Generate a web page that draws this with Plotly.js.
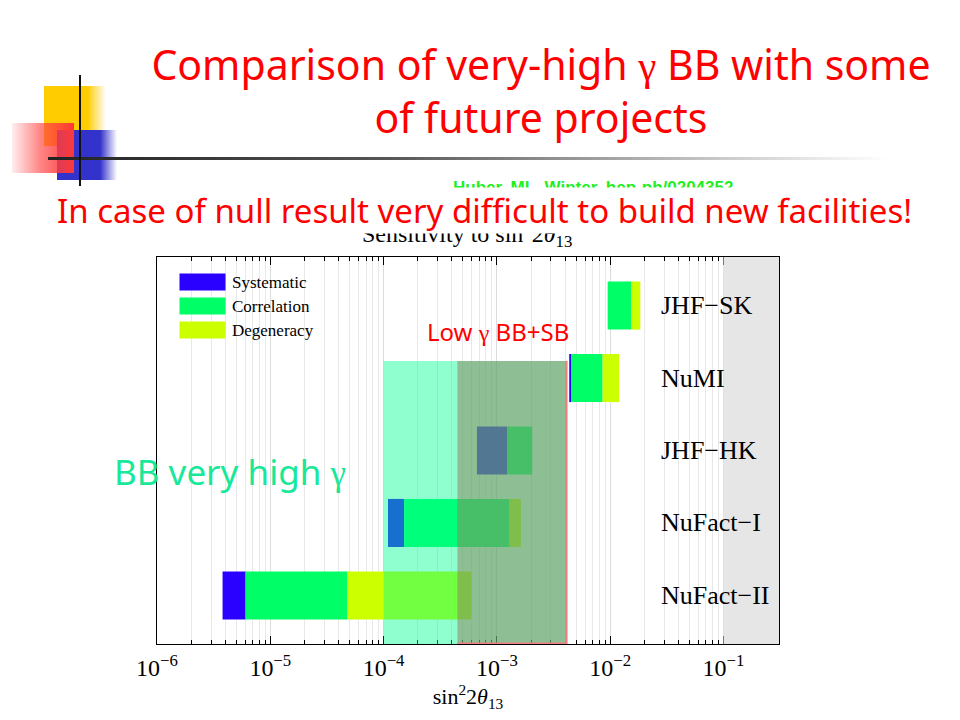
<!DOCTYPE html>
<html>
<head>
<meta charset="utf-8">
<script src="https://cdn.plot.ly/plotly-3.0.1.min.js"></script>
<style>
  html, body { margin: 0; padding: 0; background: #ffffff; }
  #wrap { position: relative; width: 960px; height: 720px; overflow: hidden; background: #ffffff; }
  .deco { position: absolute; }
  #chart { position: absolute; left: 0; top: 0; width: 960px; height: 720px; }
</style>
</head>
<body>
<div id="wrap">
  <div class="deco" style="left:44px;top:86px;width:62px;height:60px;background:linear-gradient(to right,#ffcc00 0%,#ffcc00 70%,rgba(255,204,0,0) 100%);"></div>
  <div class="deco" style="left:57px;top:130px;width:60px;height:50px;background:linear-gradient(to right,#3333cc 0%,#3333cc 72%,rgba(51,51,204,0) 100%);"></div>
  <div class="deco" style="left:12px;top:123px;width:62px;height:50px;background:linear-gradient(to right,rgba(255,90,90,0.1) 0%,rgba(255,70,70,0.65) 45%,#ff3838 100%);"></div>
  <div class="deco" style="left:48px;top:157px;width:840px;height:3px;background:linear-gradient(to right,#222 0%,#555 40%,rgba(120,120,120,0.4) 80%,rgba(200,200,200,0) 100%);"></div>
  <div class="deco" style="left:79px;top:75px;width:2px;height:111px;background:#111;"></div>
  <div id="chart"></div>
</div>
<script>
// ---- data ----
const categories = ['JHF\u2212SK', 'NuMI', 'JHF\u2212HK', 'NuFact\u2212I', 'NuFact\u2212II'];
const seriesNames = ['Systematic', 'Correlation', 'Degeneracy'];
const seriesColors = ['#2a00ff', '#00ff66', '#ccff00'];
const statisticsLimit = [0.0095, 0.00435, 0.000667, 0.0001094, 0.00000379];
const systematicLimit = [0.0095, 0.00451, 0.00123, 0.000152, 0.00000605];
const correlationLimit = [0.01535, 0.00857, 0.00205, 0.00129, 0.0000479];
const degeneracyLimit = [0.01845, 0.0120, 0.00205, 0.00163, 0.000594];
const bbVeryHighRange = [1e-4, 4.47e-4];
const lowGammaRange = [4.47e-4, 4.1e-3];
const excludedRange = [0.1, 0.4];
const decadeVals = [1e-6, 1e-5, 1e-4, 1e-3, 1e-2, 1e-1];
const decadeText = ['10<sup>\u22126</sup>', '10<sup>\u22125</sup>', '10<sup>\u22124</sup>', '10<sup>\u22123</sup>', '10<sup>\u22122</sup>', '10<sup>\u22121</sup>'];
const minorMultipliers = [2, 3, 4, 5, 6, 7, 8, 9];

// ---- geometry helpers (pixel -> paper) ----
const PL = 157, PR = 779, PT = 257, PB = 644;
const px = v => (v - PL) / (PR - PL);
const py = v => (PB - v) / (PB - PT);

const minorVals = [];
decadeVals.forEach(d => minorMultipliers.forEach(m => minorVals.push(d * m)));

const bounds = [statisticsLimit, systematicLimit, correlationLimit, degeneracyLimit];
const traces = seriesNames.map((name, k) => ({
  type: 'bar',
  orientation: 'h',
  name: name,
  y: categories,
  base: bounds[k],
  x: bounds[k + 1].map((v, i) => v - bounds[k][i]),
  width: 0.664,
  marker: { color: seriesColors[k], line: { width: 0 } },
  showlegend: false,
  hoverinfo: 'skip'
}));

const shapes = [
  { type: 'rect', xref: 'x', yref: 'paper', x0: excludedRange[0], x1: excludedRange[1], y0: 0, y1: 1,
    fillcolor: '#e6e6e6', line: { width: 0 }, layer: 'above' },
  { type: 'rect', xref: 'x', yref: 'paper', x0: bbVeryHighRange[0], x1: bbVeryHighRange[1], y0: 0, y1: py(361),
    fillcolor: 'rgba(0,255,148,0.44)', line: { width: 0 }, layer: 'above' },
  { type: 'rect', xref: 'x', yref: 'paper', x0: lowGammaRange[0], x1: lowGammaRange[1], y0: 0, y1: py(361),
    fillcolor: 'rgba(98,165,105,0.72)', line: { width: 0 }, layer: 'above' },
  { type: 'line', xref: 'x', yref: 'paper', x0: lowGammaRange[1], x1: lowGammaRange[1], y0: 0, y1: py(361),
    line: { color: '#f08080', width: 2.5 }, layer: 'above' },
  { type: 'line', xref: 'x', yref: 'paper', x0: lowGammaRange[0], x1: lowGammaRange[1], y0: 0.002, y1: 0.002,
    line: { color: '#f08080', width: 1.5 }, layer: 'above' }
];

// legend boxes
const legendTop = [273.5, 297.5, 321.5];
seriesNames.forEach((n, k) => {
  shapes.push({ type: 'rect', xref: 'paper', yref: 'paper', x0: px(179.5), x1: px(225.5),
    y0: py(legendTop[k] + 17), y1: py(legendTop[k]), fillcolor: seriesColors[k], line: { width: 0 }, layer: 'above' });
});

const serif = 'Liberation Serif, Times New Roman, serif';
const slideFont = 'Noto Sans, sans-serif';

const annotations = [];
seriesNames.forEach((n, k) => {
  annotations.push({ xref: 'paper', yref: 'paper', x: px(230), y: py(legendTop[k] + 8.5), xanchor: 'left', yanchor: 'middle',
    text: n, showarrow: false, font: { family: serif, size: 17, color: '#000' } });
});
categories.forEach(c => {
  annotations.push({ xref: 'paper', yref: 'y', x: px(659), y: c, xanchor: 'left', yanchor: 'middle',
    text: c, showarrow: false, font: { family: serif, size: 26, color: '#000' } });
});
annotations.push({ xref: 'paper', yref: 'paper', x: px(425), y: py(331), xanchor: 'left', yanchor: 'middle',
  text: 'Low <span style="font-family:Liberation Serif">\u03b3</span> BB+SB', showarrow: false,
  font: { family: slideFont, size: 24, color: '#ff0000' } });
annotations.push({ xref: 'paper', yref: 'paper', x: px(112), y: py(471), xanchor: 'left', yanchor: 'middle',
  text: 'BB very high <span style="font-family:Liberation Serif">\u03b3</span>', showarrow: false,
  font: { family: slideFont, size: 35, color: '#17e89a' } });
annotations.push({ xref: 'paper', yref: 'paper', x: px(593), y: py(188), xanchor: 'center', yanchor: 'middle',
  text: '<b>Huber, ML, Winter, hep-ph/0204352</b>', showarrow: false,
  font: { family: 'Liberation Sans, Arial, sans-serif', size: 17, color: '#22ee22' } });
annotations.push({ xref: 'paper', yref: 'paper', x: px(467), y: py(234), xanchor: 'center', yanchor: 'middle',
  text: 'Sensitivity to sin<sup>2</sup>2<i>\u03b8</i><sub>13</sub>', showarrow: false,
  font: { family: serif, size: 24, color: '#000' } });
annotations.push({ xref: 'paper', yref: 'paper', x: px(485), y: py(211), xanchor: 'center', yanchor: 'middle',
  text: 'In case of null result very difficult to build new facilities!', showarrow: false,
  bgcolor: '#ffffff', borderpad: 0,
  font: { family: slideFont, size: 33, color: '#ff0000' } });

const layout = {
  width: 960, height: 720,
  margin: { l: PL, r: 960 - PR, t: PT, b: 720 - PB, pad: 0 },
  paper_bgcolor: 'rgba(0,0,0,0)',
  plot_bgcolor: '#ffffff',
  barmode: 'overlay',
  showlegend: false,
  title: {
    text: 'Comparison of very-high <span style="font-family:Liberation Serif">\u03b3</span> BB with some<br>of future projects',
    x: 541 / 960, xref: 'container', xanchor: 'center',
    y: 1 - 80 / 720, yref: 'container', yanchor: 'top',
    font: { family: slideFont, size: 41, color: '#ff0000' }
  },
  xaxis: {
    type: 'log', range: [-6, -0.51],
    tickmode: 'array', tickvals: decadeVals, ticktext: decadeText,
    ticks: 'inside', ticklen: 8, tickwidth: 1, tickcolor: '#000',
    ticklabelstandoff: 2,
    showline: true, linecolor: '#000', linewidth: 1, mirror: 'ticks',
    showgrid: true, gridcolor: '#dcdcdc', gridwidth: 1, zeroline: false,
    minor: { tickmode: 'array', tickvals: minorVals, ticks: 'inside', ticklen: 4, tickcolor: '#000',
      showgrid: true, gridcolor: '#e8e8e8', gridwidth: 1 },
    tickfont: { family: serif, size: 24, color: '#000' },
    title: { text: 'sin<sup>2</sup>2<i>\u03b8</i><sub>13</sub>', standoff: 8,
      font: { family: serif, size: 22, color: '#000' } }
  },
  yaxis: {
    type: 'category', categoryorder: 'array', categoryarray: categories,
    range: [4.67, -0.67], showticklabels: false, ticks: '',
    showline: true, linecolor: '#000', linewidth: 1, mirror: true,
    showgrid: false, zeroline: false
  },
  shapes: shapes,
  annotations: annotations
};

Plotly.newPlot('chart', traces, layout, { staticPlot: true, displayModeBar: false });
</script>
</body>
</html>
